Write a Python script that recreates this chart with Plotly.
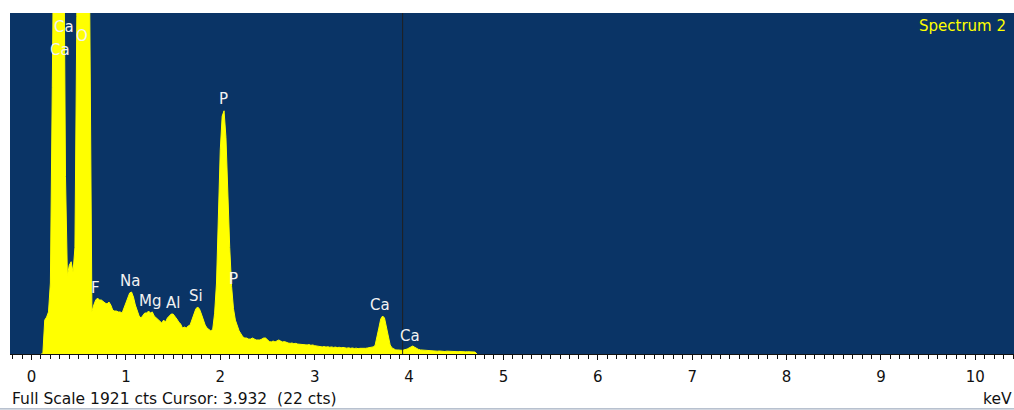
import plotly.graph_objects as go

# EDS spectrum: counts per 0.02 keV channel, starting at 0.10 keV
start_kev = 0.10
step_kev = 0.02
counts = [
    0, 0, 191, 208, 237, 400, 1500, 3500, 4500, 5000,          # 0.10
    4800, 3900, 2600, 1000, 440, 500, 520, 460, 600, 1900,     # 0.30
    4000, 4800, 5200, 5000, 4200, 3200, 1950, 240, 276, 304,   # 0.50
    315, 304, 304, 293, 287, 282, 293, 276, 248, 242,          # 0.70
    242, 237, 237, 231, 259, 287, 315, 344, 349, 321,          # 0.90
    276, 237, 214, 203, 214, 231, 231, 242, 231, 237,          # 1.10
    214, 203, 197, 186, 175, 191, 180, 203, 214, 225,          # 1.30
    225, 214, 197, 180, 169, 146, 152, 146, 158, 163,          # 1.50
    197, 231, 253, 265, 253, 225, 191, 163, 146, 135,          # 1.70
    130, 140, 230, 400, 770, 1150, 1340, 1370, 1220, 890,      # 1.90
    600, 380, 255, 191, 158, 130, 113, 96, 90, 90,             # 2.10
    84, 84, 90, 84, 79, 79, 79, 84, 90, 90,                    # 2.30
    79, 70, 68, 73, 68, 73, 79, 73, 68, 70,                    # 2.50
    65, 62, 60, 62, 58, 60, 56, 56, 54, 56,                    # 2.70
    52, 51, 53, 49, 51, 47, 45, 47, 43, 40,                    # 2.90
    42, 39, 41, 38, 40, 37, 39, 36, 38, 35,                    # 3.10
    37, 34, 33, 35, 32, 34, 31, 33, 30, 32,                    # 3.30
    31, 33, 32, 34, 36, 38, 40, 48, 90, 146,                   # 3.50
    197, 214, 203, 152, 90, 51, 34, 28, 23, 23,                # 3.70
    20, 21, 22, 24, 28, 34, 42, 45, 38, 31,                    # 3.90
    26, 23, 22, 20, 21, 19, 18, 19, 17, 18,                    # 4.10
    16, 17, 15, 17, 14, 16, 15, 14, 15, 13,                    # 4.30
    14, 13, 14, 12, 13, 12, 13, 12, 11, 12,                    # 4.50
    11, 0,                                                     # 4.70
]
energies = [round(start_kev + step_kev * i, 2) for i in range(len(counts))]

full_scale_cts = 1921
cursor_kev = 3.932
cursor_cts = 22
spectrum_name = "Spectrum 2"

# Element markers: label, energy (keV), label height (cts)
peak_labels = ["Ca", "Ca", "O", "F", "Na", "Mg", "Al", "Si", "P", "P", "Ca", "Ca"]
peak_label_kev = [0.34, 0.30, 0.53, 0.68, 1.04, 1.26, 1.50, 1.74, 2.03, 2.14, 3.69, 4.01]
peak_label_cts = [1840, 1715, 1790, 370, 410, 296, 286, 326, 1438, 420, 276, 101]

tick_vals = list(range(0, 11))
tick_text = [str(v) for v in tick_vals]

BG = "#0a3466"
YELLOW = "#ffff00"
FONT = "DejaVu Sans, Verdana, sans-serif"

fig = go.Figure()
fig.add_trace(go.Scatter(
    x=energies, y=counts, mode="lines",
    line=dict(color=YELLOW, width=1),
    fill="tozeroy", fillcolor=YELLOW,
    hoverinfo="skip", showlegend=False,
))

# cursor line
fig.add_shape(type="line", xref="x", yref="paper",
              x0=cursor_kev, x1=cursor_kev, y0=0, y1=1,
              line=dict(color="#202020", width=1))

for lab, ex, cy in zip(peak_labels, peak_label_kev, peak_label_cts):
    fig.add_annotation(x=ex, y=cy, xref="x", yref="y", text=lab,
                       showarrow=False, font=dict(family=FONT, size=15, color="#f2f2f2"))

fig.add_annotation(x=0.994, y=0.962, xref="paper", yref="paper", text=spectrum_name,
                   xanchor="right", yanchor="middle", showarrow=False,
                   font=dict(family=FONT, size=15, color=YELLOW))

fig.add_annotation(x=0.0, y=-0.132, xref="paper", yref="paper",
                   text=f"Full Scale {full_scale_cts} cts Cursor: {cursor_kev:.3f}  ({cursor_cts} cts)",
                   xanchor="left", yanchor="middle", showarrow=False,
                   font=dict(family=FONT, size=15.5, color="#111111"))
fig.add_annotation(x=1.0, y=-0.132, xref="paper", yref="paper", text="keV",
                   xanchor="right", yanchor="middle", showarrow=False,
                   font=dict(family=FONT, size=15.5, color="#111111"))

# thin frame line along the bottom of the window
fig.add_shape(type="line", xref="paper", yref="paper",
              x0=-0.01, x1=1.0, y0=-0.161, y1=-0.161,
              line=dict(color="#8a9ab0", width=1))

fig.update_layout(
    width=1014, height=410,
    margin=dict(l=10, r=0, t=13, b=56),
    paper_bgcolor="white", plot_bgcolor=BG,
    xaxis=dict(
        range=[-0.228, 10.41], showgrid=False, zeroline=False,
        showline=True, linecolor="#111111", linewidth=1,
        tickmode="array", tickvals=tick_vals, ticktext=tick_text,
        ticks="outside", ticklen=5, tickcolor="#111111",
        ticklabelstandoff=4,
        tickfont=dict(family=FONT, size=15, color="#111111"),
        minor=dict(dtick=0.1, ticks="outside", ticklen=4, tickcolor="#111111"),
    ),
    yaxis=dict(range=[0, full_scale_cts], visible=False, fixedrange=True),
)

fig.write_html("out.html")
